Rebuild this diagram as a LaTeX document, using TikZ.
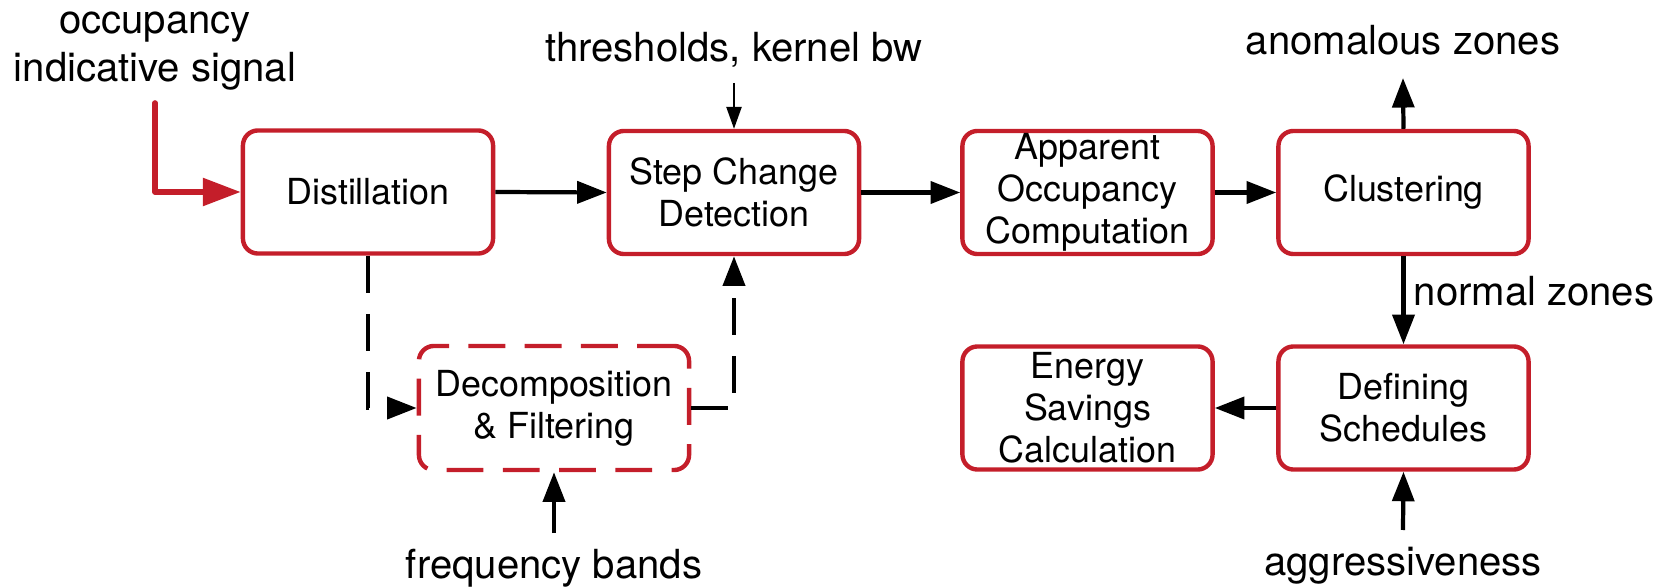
\documentclass[tikz,border=0pt]{standalone}
\usepackage{fontspec}
\setmainfont{TeX Gyre Heros}
\usetikzlibrary{arrows.meta}
\definecolor{boxred}{RGB}{196,30,42}
\begin{document}
\begin{tikzpicture}[x=0.01cm,y=-0.01cm,
  box/.style={draw=boxred, line width=1.25pt, rounded corners=0.15cm, minimum width=2.50cm, minimum height=1.23cm, inner sep=0pt, align=center, font=\fontsize{10.2}{12}\selectfont},
  dbox/.style={box, dash pattern=on 10.5pt off 5.5pt, minimum width=2.70cm, minimum height=1.24cm},
  lbl/.style={inner sep=0pt, font=\fontsize{11.4}{13.9}\selectfont},
  conn/.style={line width=1.2pt, -{Triangle[length=8.4pt,width=6.2pt]}},
  dconn/.style={conn, dash pattern=on 10.5pt off 6pt},
  thinarrow/.style={line width=0.5pt, -{Triangle[length=6.2pt,width=4.3pt]}},
  inarrow/.style={draw=boxred, line width=1.6pt, line join=round, line cap=round, -{Triangle[length=10.8pt,width=7.7pt]}}
]
\useasboundingbox (0,0) rectangle (1672,588);
% boxes
\node[box] (dist) at (368,192) {Distillation};
\node[box] (step) at (734,192.5) {Step Change\\Detection};
\node[box] (app) at (1087.5,192.5) {Apparent\\Occupancy\\Computation};
\node[box] (clu) at (1403.5,192.5) {Clustering};
\node[box] (def) at (1403.5,408) {Defining\\Schedules};
\node[box] (ene) at (1087.5,408) {Energy\\Savings\\Calculation};
\node[dbox] (dec) at (554,408) {Decomposition\\\& Filtering};
% labels
\node[lbl, align=center, anchor=base] (occ) at (155,82) {occupancy\\indicative signal};
\node[lbl, anchor=base] (thr) at (734,62) {thresholds, kernel bw};
\node[lbl, anchor=base] (ano) at (1403,55) {anomalous zones};
\node[lbl, anchor=base west] (nor) at (1413,305) {normal zones};
\node[lbl, anchor=base] (frq) at (554,578) {frequency bands};
\node[lbl, anchor=base] (agg) at (1403,575) {aggressiveness};
% free ends
\coordinate (occin) at (155,103);
\coordinate (thrA) at (734,83);
\coordinate (anoA) at (1403,78);
\coordinate (frqA) at (554,533);
\coordinate (aggA) at (1403,530);
% connectors
\draw[inarrow] (occin) |- (dist.west);
\draw[conn] (dist.east) -- (step.west);
\draw[conn] (step.east) -- (app.west);
\draw[conn] (app.east) -- (clu.west);
\draw[thinarrow] (thrA) -- (step.north);
\draw[conn] (clu.north) -- (anoA);
\draw[conn] (clu.south) -- (def.north);
\draw[conn] (def.west) -- (ene.east);
\draw[conn] (frqA) -- (dec.south);
\draw[conn] (aggA) -- (def.south);
\draw[dconn] (dist.south) |- (dec.west);
\draw[dconn] (dec.east) -| (step.south);
\end{tikzpicture}
\end{document}
